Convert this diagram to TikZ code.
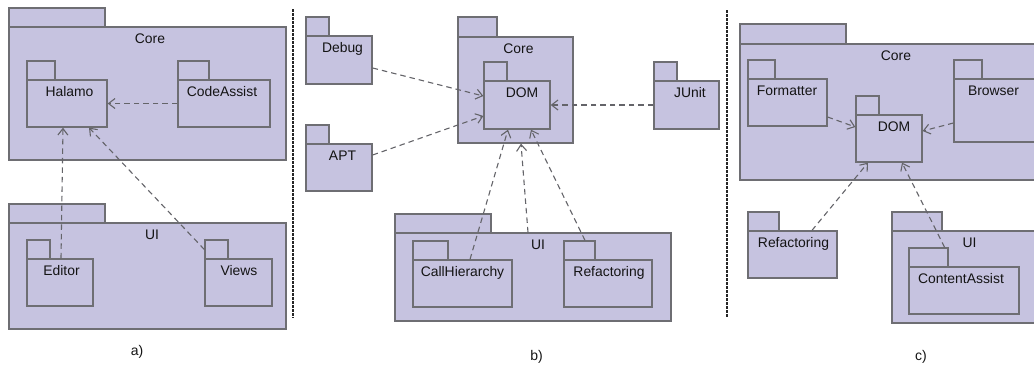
\documentclass[tikz,border=0pt]{standalone}
\usepackage{fontspec}
\setmainfont{Liberation Sans}
\usetikzlibrary{fit,arrows.meta}
\definecolor{pkgfill}{RGB}{198,195,224}
\definecolor{pkgborder}{RGB}{110,110,115}
\definecolor{depcol}{RGB}{100,100,105}
\definecolor{txtcol}{RGB}{20,20,20}
\tikzset{
  pkgtab/.style={draw=pkgborder, fill=pkgfill, line width=1.3pt, inner sep=0pt},
  pkgbody/.style={draw=pkgborder, fill=pkgfill, line width=1.3pt, inner sep=0pt},
  pkgtext/.style={font=\fontsize{13.9}{16}\selectfont, text=txtcol, inner sep=0pt, anchor=base},
  dep/.style={draw=depcol, line width=1.1pt, dash pattern=on 5.5pt off 4pt, -{Straight Barb[length=6.5pt,width=10pt]}},
  sep/.style={draw=black!85, line width=2pt, dash pattern=on 2.5pt off 1.5pt},
  caption/.style={font=\fontsize{14}{16}\selectfont, text=txtcol, inner sep=0pt, anchor=base}
}
% name, x0, tabtop, tabright, bodytop, x1, y1, label, label x
\newcommand\mkpkg[9]{%
  \node[pkgtab, fit={(#2,#3) (#4,#5)}] (#1-tab) {};
  \node[pkgbody, fit={(#2,#5) (#6,#7)}] (#1) {};
  \node[pkgtext, yshift=-16.5pt] (#1-lbl) at (#9,#5) {#8};
}
\begin{document}
\begin{tikzpicture}[x=1pt,y=-1pt]
\useasboundingbox (0,0) rectangle (1034,365);
\clip (0,0) rectangle (1034,365);
% ---------- a)
\mkpkg{coreA}{9}{8}{105}{27}{286}{160}{Core}{150}
\mkpkg{halamo}{27}{61}{55}{80}{107}{127}{Halamo}{69.5}
\mkpkg{codeassist}{178}{61}{209}{80}{270}{127}{CodeAssist}{222}
\mkpkg{uiA}{9}{204}{105}{223}{286}{329}{UI}{152}
\mkpkg{editor}{27}{240}{50}{259}{93}{306}{Editor}{61.5}
\mkpkg{views}{205}{240}{228}{259}{272}{306}{Views}{239}
\draw[dep] (codeassist.west) -- (halamo.east);
\draw[dep] ([xshift=1pt]editor.north) -- ([xshift=-4pt]halamo.south);
\draw[dep] (views-tab.west) -- ([xshift=22pt]halamo.south);
\node[caption] (capA) at (137,355) {a)};
% ---------- b)
\mkpkg{debug}{306}{17}{329}{36}{372}{84}{Debug}{342.5}
\mkpkg{apt}{306}{125}{329}{144}{372}{191}{APT}{342.5}
\mkpkg{coreB}{458}{17}{497}{37}{573}{143}{Core}{518.5}
\mkpkg{domB}{484}{62}{507}{81}{550}{129}{DOM}{522}
\mkpkg{junit}{654}{62}{677}{81}{719}{129}{JUnit}{690}
\mkpkg{uiB}{395}{214}{491}{233}{671}{321}{UI}{538}
\mkpkg{callh}{413}{241}{448}{260}{512}{307}{CallHierarchy}{462.5}
\mkpkg{refB}{564}{241}{595}{260}{652}{307}{Refactoring}{609}
\draw[dep] ([yshift=-8pt]debug.east) -- ([yshift=9pt]domB.west);
\draw[dep] ([yshift=12.5pt]apt.east) -- ([yshift=-11pt]domB.west);
\draw[dep] (junit.west) -- (domB.east);
\draw[dep] ([xshift=7.5pt]callh.north) -- ([xshift=-9pt]domB.south);
\draw[dep] ([xshift=-5pt]uiB.north) -- ([xshift=5.5pt]coreB.south);
\draw[dep] ([xshift=5.5pt]refB-tab.north) -- ([xshift=14pt]domB.south);
\node[caption] (capB) at (536.5,360) {b)};
% ---------- c)
\mkpkg{coreC}{740}{24}{846}{44}{1046}{180}{Core}{896}
\mkpkg{formatter}{748}{60}{775}{79}{827}{126}{Formatter}{787}
\mkpkg{domC}{856}{96}{879}{115}{922}{162}{DOM}{894}
\mkpkg{browser}{954}{60}{982}{79}{1040}{142}{Browser}{993.5}
\mkpkg{refC}{748}{212}{779}{231}{837}{278}{Refactoring}{793.5}
\mkpkg{uiC}{892}{212}{942}{231}{1046}{323}{UI}{969.5}
\mkpkg{contentassist}{909}{248}{948}{267}{1019}{314}{ContentAssist}{961}
\draw[dep] ([yshift=-14.5pt]formatter.east) -- ([yshift=11.5pt]domC.west);
\draw[dep] ([yshift=-12.5pt]browser.west) -- ([yshift=7.5pt]domC.east);
\draw[dep] ([xshift=19.5pt]refC.north) -- ([xshift=-21pt]domC.south);
\draw[dep] ([xshift=-4pt]contentassist-tab.north east) -- ([xshift=13pt]domC.south);
\node[caption] (capC) at (921,360) {c)};
% ---------- separators
\coordinate (s1t) at (293,9);
\coordinate (s1b) at (293,318);
\coordinate (s2t) at (727,10);
\coordinate (s2b) at (727,318);
\draw[sep] (s1t) -- (s1b);
\draw[sep] (s2t) -- (s2b);
\end{tikzpicture}
\end{document}
